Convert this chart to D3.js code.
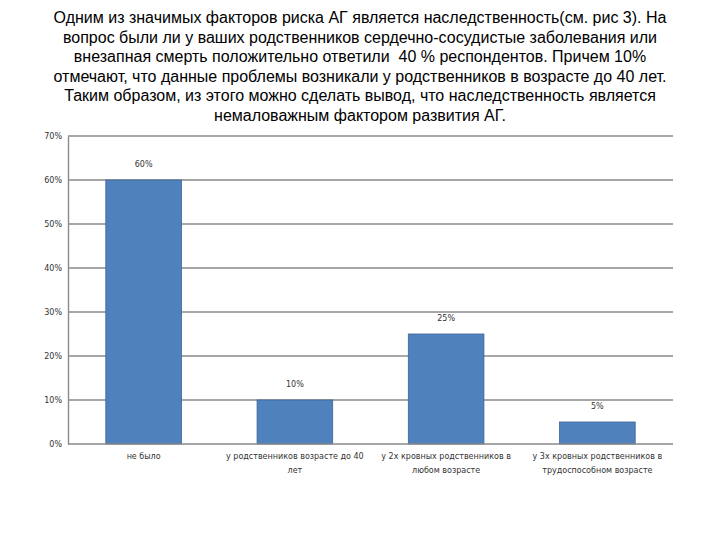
<!DOCTYPE html>
<html><head><meta charset="utf-8">
<script src="https://cdn.jsdelivr.net/npm/d3@7"></script>
<style>body{margin:0;background:#fff}svg{display:block}</style>
</head><body>
<script>
const titleLines = [
  "Одним из значимых факторов риска АГ является наследственность(см. рис 3). На",
  "вопрос были ли у ваших родственников сердечно-сосудистые заболевания или",
  "внезапная смерть положительно ответили  40 % респондентов. Причем 10%",
  "отмечают, что данные проблемы возникали у родственников в возрасте до 40 лет.",
  "Таким образом, из этого можно сделать вывод, что наследственность является",
  "немаловажным фактором развития АГ."
];
const categories = [
  ["не было"],
  ["у родственников возрасте до 40", "лет"],
  ["у 2х кровных родственников в", "любом возрасте"],
  ["у 3х кровных родственников в", "трудоспособном возрасте"]
];
const values = [60, 10, 25, 5];
const valueLabels = ["60%", "10%", "25%", "5%"];
const yTicks = [0, 10, 20, 30, 40, 50, 60, 70];

(function () {
const W = 720, H = 540;
const svg = d3.select("body").append("svg").attr("width", W).attr("height", H);

const tFont = "'Liberation Sans Narrow','Arial Narrow','Liberation Sans',sans-serif";
svg.append("g").selectAll("text").data(titleLines).join("text")
  .attr("x", 360).attr("y", (d, i) => 23 + i * 19.5)
  .attr("text-anchor", "middle")
  .style("white-space", "pre")
  .style("font-family", tFont).style("font-size", "16px").attr("fill", "#000")
  .text(d => d);

const pLeft = 68, pRight = 673, pTop = 136, pBottom = 444;
const x = d3.scaleBand().domain(d3.range(categories.length)).range([pLeft, pRight]).paddingInner(0.5).paddingOuter(0.25);
const y = d3.scaleLinear().domain([0, 70]).range([pBottom, pTop]);

const sFont = "'DejaVu Sans',sans-serif";
svg.append("g").selectAll("line").data(yTicks.filter(t => t > 0)).join("line")
  .attr("x1", pLeft).attr("x2", pRight)
  .attr("y1", d => y(d)).attr("y2", d => y(d))
  .attr("stroke", "#8a8a8a").attr("stroke-width", 1.4);

const yAxis = d3.axisLeft(y).tickValues(yTicks).tickFormat(d => d + "%").tickSize(0).tickPadding(6);
const ga = svg.append("g").attr("transform", `translate(${pLeft},0)`).call(yAxis);
ga.select(".domain").attr("stroke", "#8a8a8a").attr("stroke-width", 1.4);
ga.selectAll("text").style("font-family", sFont).style("font-size", "8px").attr("fill", "#333");

svg.append("g").selectAll("rect").data(values).join("rect")
  .attr("x", (d, i) => x(i)).attr("width", x.bandwidth())
  .attr("y", d => y(d)).attr("height", d => pBottom - y(d))
  .attr("fill", "#4f81bd").attr("stroke", "#3c6496").attr("stroke-width", 0.8);

svg.append("line").attr("x1", pLeft).attr("x2", pRight).attr("y1", pBottom).attr("y2", pBottom)
  .attr("stroke", "#8a8a8a").attr("stroke-width", 1.4);

svg.append("g").selectAll("text").data(values).join("text")
  .attr("x", (d, i) => x(i) + x.bandwidth() / 2)
  .attr("y", d => y(d) - 13)
  .attr("text-anchor", "middle")
  .style("font-family", sFont).style("font-size", "8px").attr("fill", "#333")
  .text((d, i) => valueLabels[i]);

const cg = svg.append("g").selectAll("text").data(categories).join("text")
  .attr("x", (d, i) => x(i) + x.bandwidth() / 2)
  .attr("y", 459)
  .attr("text-anchor", "middle")
  .style("font-family", sFont).style("font-size", "8px").attr("fill", "#333");
cg.selectAll("tspan").data(d => d).join("tspan")
  .attr("x", function () { return d3.select(this.parentNode).attr("x"); })
  .attr("dy", (d, i) => i === 0 ? 0 : 14)
  .text(d => d);
})();
</script>
</body></html>
